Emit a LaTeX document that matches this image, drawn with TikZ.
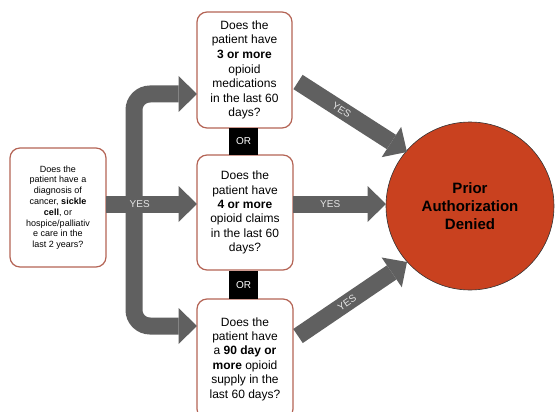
\documentclass[tikz,border=0pt]{standalone}
\usepackage{fontspec}
\setmainfont{Liberation Sans}
\usetikzlibrary{arrows.meta}
\definecolor{arrowgray}{RGB}{96,96,96}
\definecolor{boxborder}{RGB}{180,100,85}
\definecolor{circfill}{RGB}{201,65,31}
\definecolor{yescol}{RGB}{228,228,228}
\begin{document}
\begin{tikzpicture}[x=1pt,y=-1pt,
  qbox/.style={draw=boxborder, line width=1.2pt, rounded corners=10pt, fill=white,
    align=center, inner sep=0pt},
  orbox/.style={fill=black, text=white, inner sep=0pt, minimum width=29pt,
    minimum height=28pt, font=\fontsize{10}{12}\selectfont},
  fatarrow/.style={draw=arrowgray, line width=17pt,
    -{Triangle[length=18.5pt,width=36pt,line width=0pt]}},
  yeslbl/.style={text=yescol, inner sep=0pt, font=\fontsize{10}{12}\selectfont}
]
\useasboundingbox (0,0) rectangle (555,412);
\clip (0,0) rectangle (555,412);

% nodes
\node[qbox, minimum width=96pt, minimum height=119pt,
  font=\fontsize{9}{10.8}\selectfont] (left) at (58,207.5)
  {Does the\\patient have a\\diagnosis of\\cancer, \textbf{sickle}\\\textbf{cell}, or\\hospice/palliativ\\e care in the\\last 2 years?};
\node[qbox, minimum width=95pt, minimum height=116pt,
  font=\fontsize{12}{14.6}\selectfont] (top) at (244.5,70)
  {Does the\\patient have\\\textbf{3 or more}\\opioid\\medications\\in the last 60\\days?};
\node[qbox, minimum width=96pt, minimum height=115pt,
  font=\fontsize{12}{14.4}\selectfont] (mid) at (245,212.5)
  {Does the\\patient have\\\textbf{4 or more}\\opioid claims\\in the last 60\\days?};
\node[qbox, minimum width=96pt, minimum height=120pt,
  font=\fontsize{12}{14.4}\selectfont] (bot) at (245,359)
  {Does the\\patient have\\a \textbf{90 day or}\\\textbf{more} opioid\\supply in the\\last 60 days?};
\node[orbox, minimum height=26pt] (or1) at (243.5,141.5) {OR};
\node[orbox] (or2) at (243.5,285) {OR};
\node[circle, draw=black!80, line width=0.6pt, fill=circfill, minimum size=168pt,
  inner sep=0pt, align=center, font=\fontsize{15}{18}\selectfont\bfseries]
  (deny) at (470,206) {Prior\\Authorization\\Denied};

% coordinates for arrow ends
\coordinate (split) at (134,204);
\coordinate (topin) at (197,94);
\coordinate (botin) at (197,326);
\coordinate (leftout) at (106,204);
\coordinate (midin) at (197,204);
\coordinate (midout) at (293,204);
\coordinate (denyin) at (386,204);
\coordinate (d1s) at (298,82);
\coordinate (d1e) at (407,152);
\coordinate (d2s) at (298,336);
\coordinate (d2e) at (407,262);

% bent arrows
\draw[fatarrow, rounded corners=16pt] (split) |- (topin);
\draw[fatarrow, rounded corners=16pt] (split) |- (botin);
% straight arrows
\draw[fatarrow] (leftout) -- (midin) node[yeslbl, pos=0.37] {YES};
\draw[fatarrow] (midout) -- (denyin) node[yeslbl, pos=0.4] {YES};
\draw[fatarrow] (d1s) -- (d1e) node[yeslbl, pos=0.4, sloped] {YES};
\draw[fatarrow] (d2s) -- (d2e) node[yeslbl, pos=0.45, sloped] {YES};
\end{tikzpicture}
\end{document}
